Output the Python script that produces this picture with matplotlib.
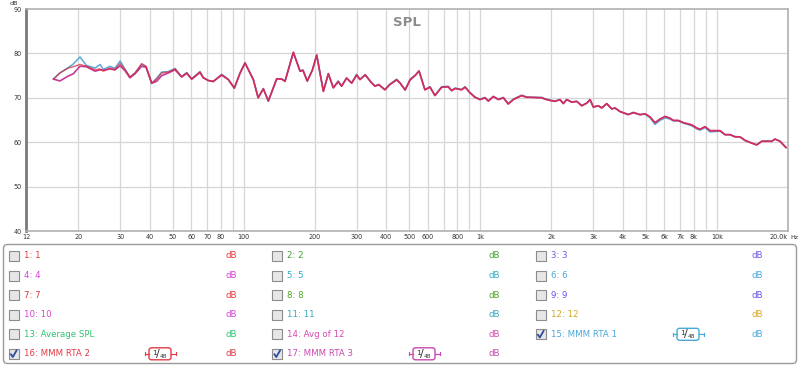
import matplotlib
matplotlib.use("Agg")
import matplotlib.pyplot as plt
from matplotlib.patches import Rectangle, FancyBboxPatch
from matplotlib.ticker import FixedLocator, NullLocator

# ---------------- data ----------------
freq_hz = [15.7, 16.7, 18.1, 19.0, 20.3, 21.6, 23.5, 24.7, 25.5, 27.2, 28.5, 30.0, 31.5, 33.0, 34.7,
           37.0, 38.6, 40.8, 42.8, 45.0, 48.0, 51.2, 54.6, 57.4, 60.2, 65.3, 67.4, 70.8, 74.3, 80.6,
           86.0, 91.2, 96.4, 101.2, 106.2, 109.7, 115.0, 121, 127, 137.8, 144.7, 149.4, 162, 172.9,
           178, 185.5, 195, 203.4, 217, 227.8, 239, 251, 259, 272, 286, 300, 310, 326, 347, 359,
           372, 395, 415, 443, 458, 481, 505, 530, 551, 583, 613, 643, 687, 732, 757, 782, 834,
           862, 905, 950, 997, 1047, 1082, 1135, 1192, 1252, 1313, 1379, 1496, 1571, 1650, 1819,
           1878, 1972, 2071, 2173, 2244, 2320, 2436, 2557, 2684, 2819, 2911, 3006, 3156, 3262,
           3425, 3596, 3713, 3898, 4226, 4437, 4738, 4973, 5219, 5479, 5753, 6042, 6343, 6550,
           6876, 7220, 7834, 8226, 8495, 8916, 9364, 9830, 10322, 10834, 11372, 11942, 12537,
           13165, 14052, 14748, 15481, 16260, 17066, 17628, 18516, 19118, 19620]

rta2_db = [74.2, 75.6, 76.7, 77.0, 77.5, 77.1, 76.3, 76.5, 76.0, 76.7, 76.3, 77.7, 76.3, 74.7, 75.6,
           77.7, 77.1, 73.3, 74.2, 75.6, 75.8, 76.5, 74.7, 75.6, 74.2, 75.8, 74.5, 73.9, 73.7, 75.2,
           74.1, 72.2, 75.6, 77.9, 75.6, 74.1, 70.0, 72.0, 69.3, 74.2, 74.2, 73.7, 80.3, 76.0,
           76.2, 73.7, 76.3, 79.7, 71.4, 75.5, 72.2, 73.7, 72.6, 74.5, 73.3, 75.2, 74.1, 75.2, 73.3, 72.6,
           72.9, 71.8, 73.0, 74.1, 73.3, 71.7, 74.1, 75.0, 76.1, 71.8, 72.4, 70.5, 72.4, 72.4, 71.6, 72.1, 71.8,
           72.4, 71.1, 70.1, 69.6, 70.0, 69.2, 70.3, 69.6, 70.0, 68.6, 69.6, 70.5, 70.1, 70.1, 70.0,
           69.7, 69.4, 69.2, 69.6, 68.7, 69.6, 69.0, 69.2, 68.2, 68.8, 69.6, 67.9, 68.2, 67.7,
           68.7, 67.5, 67.7, 66.9, 66.2, 66.7, 66.2, 66.4, 65.7, 64.4, 65.2, 65.8, 65.4, 64.9,
           64.9, 64.4, 63.9, 63.2, 62.9, 63.5, 62.6, 62.6, 62.6, 61.7, 61.7, 61.2, 61.2,
           60.4, 59.8, 59.4, 60.2, 60.2, 60.2, 60.7, 60.2, 59.4, 58.8]

rta1_db = [74.3, 75.6, 76.8, 77.6, 79.2, 77.3, 76.7, 77.5, 76.4, 77.1, 76.6, 78.3, 76.4, 74.6, 75.6,
           77.5, 77.0, 73.2, 74.4, 75.8, 75.9, 76.6, 74.8, 75.7, 74.3, 75.9, 74.6, 73.9, 73.6, 75.3,
           74.2, 72.1, 75.6, 77.9, 75.7, 74.2, 70.1, 72.1, 69.2, 74.3, 74.3, 73.8, 80.2, 76.1,
           76.3, 73.8, 76.2, 79.6, 71.5, 75.4, 72.3, 73.8, 72.7, 74.4, 73.4, 75.3, 74.2, 75.1, 73.4, 72.7,
           73.0, 71.9, 73.1, 74.2, 73.4, 71.8, 74.2, 75.1, 76.0, 71.9, 72.5, 70.6, 72.5, 72.6, 71.7, 72.2, 71.9,
           72.5, 71.2, 70.2, 69.7, 70.1, 69.3, 70.3, 69.7, 70.1, 68.7, 69.7, 70.6, 70.2, 70.1, 70.1,
           69.8, 69.5, 69.3, 69.6, 68.8, 69.6, 69.1, 69.2, 68.3, 68.8, 69.5, 68.0, 68.2, 67.8,
           68.6, 67.5, 67.7, 66.9, 66.3, 66.6, 66.2, 66.3, 65.5, 64.0, 64.9, 65.5, 65.2, 64.8,
           64.8, 64.3, 63.7, 63.0, 62.7, 63.3, 62.3, 62.4, 62.5, 61.7, 61.7, 61.3, 61.2,
           60.4, 59.8, 59.4, 60.2, 60.3, 60.2, 60.7, 60.2, 59.4, 58.8]

rta3_db = [74.2, 73.8, 74.9, 75.4, 77.1, 77.0, 76.0, 76.3, 76.2, 76.5, 76.3, 77.2, 76.1, 74.5, 75.4,
           77.1, 76.9, 73.3, 73.7, 75.0, 75.6, 76.3, 74.7, 75.5, 74.2, 75.7, 74.5, 73.9, 73.7, 75.1,
           74.1, 72.2, 75.5, 77.8, 75.6, 74.1, 70.0, 72.0, 69.3, 74.3, 74.2, 73.7, 80.2, 76.0,
           76.1, 73.8, 76.2, 79.6, 71.5, 75.4, 72.3, 73.6, 72.6, 74.4, 73.3, 75.1, 74.1, 75.2, 73.4, 72.6,
           73.0, 71.8, 73.0, 74.0, 73.3, 71.8, 74.0, 75.0, 76.0, 71.8, 72.4, 70.5, 72.4, 72.5, 71.6, 72.1, 71.8,
           72.4, 71.1, 70.1, 69.6, 70.0, 69.3, 70.3, 69.6, 70.0, 68.6, 69.6, 70.5, 70.1, 70.1, 70.0,
           69.7, 69.4, 69.2, 69.6, 68.7, 69.6, 69.0, 69.2, 68.2, 68.8, 69.6, 67.9, 68.2, 67.7,
           68.7, 67.5, 67.7, 66.9, 66.2, 66.7, 66.2, 66.4, 65.7, 64.4, 65.2, 65.8, 65.4, 64.9,
           64.9, 64.4, 63.9, 63.2, 62.9, 63.5, 62.6, 62.6, 62.6, 61.7, 61.7, 61.2, 61.2,
           60.4, 59.8, 59.4, 60.2, 60.2, 60.2, 60.7, 60.2, 59.4, 58.8]

x_tick_values = [12, 20, 30, 40, 50, 60, 70, 80, 100, 200, 300, 400, 500, 600, 800,
                 1000, 2000, 3000, 4000, 5000, 6000, 7000, 8000, 10000, 20000]
x_tick_labels = ["12", "20", "30", "40", "50", "60", "70", "80", "100", "200", "300", "400",
                 "500", "600", "800", "1k", "2k", "3k", "4k", "5k", "6k", "7k", "8k", "10k", "20.0k"]
x_grid_values = [20, 30, 40, 50, 60, 70, 80, 90, 100, 200, 300, 400, 500, 600, 700, 800, 900,
                 1000, 2000, 3000, 4000, 5000, 6000, 7000, 8000, 9000, 10000]
y_tick_values = [40, 50, 60, 70, 80, 90]

legend_labels = ["1: 1", "2: 2", "3: 3", "4: 4", "5: 5", "6: 6", "7: 7", "8: 8", "9: 9",
                 "10: 10", "11: 11", "12: 12", "13: Average SPL", "14: Avg of 12",
                 "15: MMM RTA 1", "16: MMM RTA 2", "17: MMM RTA 3"]
legend_colors = ["#e23a3a", "#3ea22e", "#6a5ae2", "#d444d4", "#2eaac6", "#46a8de", "#e23a3a",
                 "#52a224", "#6252e6", "#d444d4", "#3aa8b8", "#d6a822", "#2ec472", "#d64aae",
                 "#4aa8d8", "#e23a48", "#c84ab0"]
legend_checked = [False] * 14 + [True, True, True]
legend_smoothing = [None] * 14 + ["48", "48", "48"]

# ---------------- figure ----------------
fig = plt.figure(figsize=(8.0, 3.66), dpi=100)
fig.patch.set_facecolor("white")

L, R, T, B = 26, 788, 9, 231
W, H = 800, 366
ax = fig.add_axes([L / W, 1 - B / H, (R - L) / W, (B - T) / H])
ax.set_xscale("log")
ax.set_xlim(12, 20000)
ax.set_ylim(40, 90)

for gx in x_grid_values:
    ax.axvline(gx, color="#d6d6d6", lw=0.9, zorder=1)
for gy in y_tick_values[1:-1]:
    ax.axhline(gy, color="#d6d6d6", lw=0.9, zorder=1)

ax.plot(freq_hz, rta1_db, color="#5aaad8", lw=1.1, zorder=3)
ax.plot(freq_hz, rta3_db, color="#c43a9a", lw=1.2, zorder=4)
ax.plot(freq_hz, rta2_db, color="#d8283c", lw=1.1, alpha=0.7, zorder=5)

ax.xaxis.set_major_locator(FixedLocator(x_tick_values))
ax.xaxis.set_minor_locator(NullLocator())
ax.set_xticklabels(x_tick_labels)
ax.set_yticks(y_tick_values)
ax.tick_params(axis="both", length=0, labelsize=4.7, colors="#333333", pad=2)
ax.tick_params(axis="y", pad=3)
ax.get_xticklabels()[-1].set_horizontalalignment("right")

for s in ["top", "right", "bottom"]:
    ax.spines[s].set_color("#b0b0b0")
    ax.spines[s].set_linewidth(1.2)
ax.spines["left"].set_color("#7a7a7a")
ax.spines["left"].set_linewidth(2.0)

ax.text(0.5, 0.97, "SPL", transform=ax.transAxes, ha="center", va="top",
        fontsize=9.5, fontweight="bold", color="#8c8c8c", family="DejaVu Sans")

# ---------------- overlay in pixel coordinates ----------------
ov = fig.add_axes([0, 0, 1, 1], zorder=10)
ov.set_xlim(0, W)
ov.set_ylim(H, 0)
ov.axis("off")
ov.patch.set_alpha(0)

ov.text(14, 3.5, "dB", fontsize=4.6, color="#333333", ha="center", va="center")
ov.text(790, 237.5, "Hz", fontsize=4.6, color="#333333", ha="left", va="center")

# legend panel
panel = FancyBboxPatch((3.5, 244.5), 793, 119, boxstyle="round,pad=0,rounding_size=4",
                       facecolor="white", edgecolor="#9a9a9a", lw=1.0)
ov.add_patch(panel)

col_box_x = [8.5, 272, 535.5]
col_text_x = [24.5, 287, 551]
col_db_x = [231.5, 494, 757.5]
col_badge_x = [149, 413, 677]
row_y = [256, 275.5, 295, 314.8, 334.3, 353.8]

for i, lab in enumerate(legend_labels):
    r, c = divmod(i, 3)
    y = row_y[r]
    col = legend_colors[i]
    bx = col_box_x[c]
    ov.add_patch(Rectangle((bx, y - 5), 10, 10, facecolor="#e6e6e6", edgecolor="#8c8c8c", lw=0.8))
    if legend_checked[i]:
        ov.plot([bx + 2.3, bx + 4.3, bx + 8.2], [y + 0.3, y + 3.2, y - 3.6], color="#2c4c9c", lw=1.3,
                solid_capstyle="round")
    ov.text(col_text_x[c], y, lab, fontsize=6.2, color=col, ha="left", va="center")
    ov.text(col_db_x[c], y, "dB", fontsize=6.2, color=col, ha="center", va="center")
    if legend_smoothing[i] is not None:
        x0 = col_badge_x[c]
        ov.plot([x0 - 4.5, x0], [y, y], color=col, lw=0.9)
        ov.plot([x0 + 22, x0 + 26.5], [y, y], color=col, lw=0.9)
        ov.plot([x0 - 4.5, x0 - 4.5], [y - 1.5, y + 1.5], color=col, lw=0.8)
        ov.plot([x0 + 26.5, x0 + 26.5], [y - 1.5, y + 1.5], color=col, lw=0.8)
        ov.add_patch(FancyBboxPatch((x0, y - 6), 22, 12, boxstyle="round,pad=0,rounding_size=2.5",
                                    facecolor="white", edgecolor=col, lw=1.0))
        ov.text(x0 + 5, y - 1.2, "1", fontsize=5.2, color="#333333", ha="center", va="center")
        ov.text(x0 + 8.5, y, "/", fontsize=8, color="#333333", ha="center", va="center")
        ov.text(x0 + 14.5, y + 2.2, legend_smoothing[i], fontsize=4.2, color="#333333",
                ha="center", va="center")

fig.savefig("out.png", dpi=100)
